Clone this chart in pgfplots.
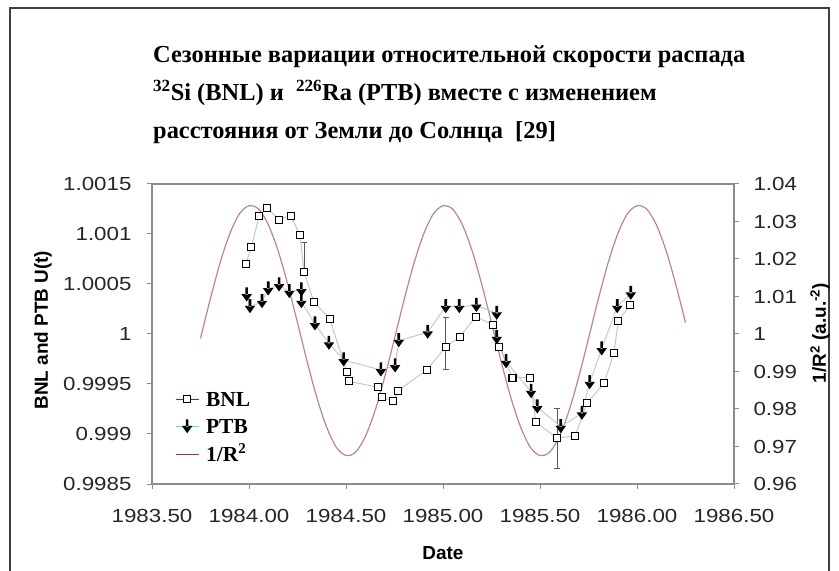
\documentclass[border=0pt]{standalone}
\usepackage{fontspec}
\setmainfont{Liberation Serif}
\setsansfont{Liberation Sans}
\newfontfamily\tickfont{Liberation Sans}[FakeStretch=1.18]
\usepackage{pgfplots}
\pgfplotsset{compat=1.18}

\definecolor{axgray}{RGB}{140,140,140}
\definecolor{curvecol}{RGB}{185,135,135}
\definecolor{legred}{RGB}{170,50,50}
\definecolor{bnlline}{RGB}{200,195,215}
\definecolor{ptbline}{RGB}{190,205,205}
\definecolor{bnlleg}{RGB}{150,0,220}
\definecolor{ptbleg}{RGB}{90,215,230}
\definecolor{errcol}{RGB}{90,90,90}

\pgfdeclareplotmark{darrow}{%
  \pgfpathrectangle{\pgfqpoint{-1.3bp}{0bp}}{\pgfqpoint{2.6bp}{7.5bp}}%
  \pgfpathmoveto{\pgfqpoint{-5.2bp}{0.8bp}}%
  \pgfpathlineto{\pgfqpoint{5.2bp}{0.8bp}}%
  \pgfpathlineto{\pgfqpoint{0bp}{-6.5bp}}%
  \pgfpathclose
  \pgfusepathqfill
}

\newcommand\tickfs{\tickfont\fontsize{19}{22}\selectfont}
\newcommand\labfs{\sffamily\bfseries\fontsize{19}{22}\selectfont}
\newcommand\titlefs{\rmfamily\bfseries\fontsize{24.5}{28}\selectfont}

\begin{document}
\begin{tikzpicture}
\useasboundingbox (0bp,0bp) rectangle (839bp,571bp);
\draw[line width=1.5bp, black!75] (10bp,0bp) -- (10bp,563bp) -- (829bp,563bp) -- (829bp,0bp);

% right axis: 1/R^2
\begin{axis}[
  at={(152bp,87bp)}, anchor=south west,
  scale only axis, width=582bp, height=300bp,
  xmin=1983.5, xmax=1986.5, ymin=0.96, ymax=1.04,
  axis x line=none, axis y line*=right,
  axis line style={axgray, line width=1.2bp},
  ytick={0.96,0.97,0.98,0.99,1,1.01,1.02,1.03,1.04},
  yticklabels={0.96,0.97,0.98,0.99,1,1.01,1.02,1.03,1.04},
  tick align=outside, major tick length=5bp,
  tick style={axgray, line width=1bp},
  yticklabel style={font=\tickfs, text=black!85, xshift=11bp},
  every axis y label/.style={at={(axis description cs:1.1478,0.503)}, anchor=center, rotate=90, font=\labfs},
  ylabel={1/R\textsuperscript{2} (a.u.\textsuperscript{-2})},
]
\addplot[curvecol, line width=1.2bp, smooth] coordinates {
(1983.75,0.9988) (1983.80,1.0092) (1983.85,1.0188) (1983.90,1.0266) (1983.95,1.0320)
(1984.00,1.0342) (1984.05,1.0333) (1984.10,1.0291) (1984.15,1.0222) (1984.20,1.0132)
(1984.25,1.0030) (1984.30,0.9926) (1984.35,0.9830) (1984.40,0.9752) (1984.45,0.9698)
(1984.50,0.9676) (1984.55,0.9685) (1984.60,0.9727) (1984.65,0.9796) (1984.70,0.9886)
(1984.75,0.9988) (1984.80,1.0092) (1984.85,1.0188) (1984.90,1.0266) (1984.95,1.0320)
(1985.00,1.0342) (1985.05,1.0333) (1985.10,1.0291) (1985.15,1.0222) (1985.20,1.0132)
(1985.25,1.0030) (1985.30,0.9926) (1985.35,0.9830) (1985.40,0.9752) (1985.45,0.9698)
(1985.50,0.9676) (1985.55,0.9685) (1985.60,0.9727) (1985.65,0.9796) (1985.70,0.9886)
(1985.75,0.9988) (1985.80,1.0092) (1985.85,1.0188) (1985.90,1.0266) (1985.95,1.0320)
(1986.00,1.0342) (1986.05,1.0333) (1986.10,1.0291) (1986.15,1.0222) (1986.20,1.0132)
(1986.25,1.0030)
};
\end{axis}

% left axis: BNL and PTB
\begin{axis}[
  at={(152bp,87bp)}, anchor=south west,
  scale only axis, width=582bp, height=300bp,
  xmin=1983.5, xmax=1986.5, ymin=0.9985, ymax=1.0015,
  axis line style={axgray, line width=1.2bp},
  xtick={1983.5,1984,1984.5,1985,1985.5,1986,1986.5},
  xticklabels={1983.50,1984.00,1984.50,1985.00,1985.50,1986.00,1986.50},
  ytick={0.9985,0.999,0.9995,1,1.0005,1.001,1.0015},
  yticklabels={0.9985,0.999,0.9995,1,1.0005,1.001,1.0015},
  xtick pos=lower, ytick pos=left,
  tick align=outside, major tick length=5bp,
  tick style={axgray, line width=1bp},
  ticklabel style={font=\tickfs, text=black!85},
  xticklabel style={yshift=-17bp},
  yticklabel style={xshift=-12bp},
  every axis x label/.style={at={(axis description cs:0.5,-0.2300)}, anchor=center, font=\labfs},
  every axis y label/.style={at={(axis description cs:-0.1873,0.513)}, anchor=center, rotate=90, font=\labfs},
  xlabel={Date},
  ylabel={BNL and PTB U(t)},
  legend style={draw=none, fill=none, inner sep=0pt, at={(axis description cs:0.039,0.329)}, anchor=north west,
    font=\rmfamily\bfseries\fontsize{21.5}{24}\selectfont,
    nodes={inner sep=6.75bp, text height=14bp, text depth=0bp}, row sep=0pt,
    /tikz/every even column/.append style={column sep=5bp}},
  legend cell align=left,
  legend image code/.code={\draw[mark repeat=2,mark phase=2,#1] plot coordinates {(0bp,0bp) (11.5bp,0bp) (23bp,0bp)};},
]
\addlegendimage{bnlleg, line width=1bp, mark=square*, mark size=3.5bp, mark options={draw=black, fill=white, line width=1.1bp}}
\addlegendentry{BNL}
\addlegendimage{ptbleg, line width=1bp, mark=darrow, mark options={black}}
\addlegendentry{PTB}
\addlegendimage{legred, line width=1.5bp}
\addlegendentry{1/R\textsuperscript{2}}

% error bars
\addplot[forget plot, only marks, mark=none,
  error bars/.cd, y dir=both, y explicit,
  error bar style={errcol, line width=1bp},
  error mark options={errcol, rotate=90, mark size=3bp, line width=1bp}]
  table[x=x, y=y, y error plus=ep, y error minus=em] {
x y ep em
1984.284 1.000617 0.0003 0
1985.015 0.999873 0.00029 0.00023
1985.589 0.998957 0.0003 0.0003
};

% BNL
\addplot[forget plot, bnlline, line width=1bp, mark=square*, mark size=3.5bp,
  mark options={draw=black, fill=white, line width=1.1bp}] coordinates {
(1983.983,1.000697) (1984.012,1.000870) (1984.053,1.001183) (1984.094,1.001260)
(1984.153,1.001143) (1984.215,1.001183) (1984.263,1.000990) (1984.284,1.000617)
(1984.334,1.000323) (1984.416,1.000150) (1984.504,0.999623) (1984.515,0.999527)
(1984.665,0.999467) (1984.686,0.999367) (1984.744,0.999330) (1984.767,0.999430)
(1984.916,0.999640) (1985.015,0.999873) (1985.088,0.999973) (1985.168,1.000173)
(1985.259,1.000090) (1985.290,0.999873) (1985.358,0.999563) (1985.448,0.999563)
(1985.479,0.999117) (1985.589,0.998957) (1985.682,0.998983) (1985.741,0.999307)
(1985.831,0.999507) (1985.881,0.999813) (1985.904,1.000130) (1985.964,1.000290)
};

% PTB
\addplot[forget plot, ptbline, line width=1bp, mark=darrow, mark options={black}] coordinates {
(1983.988,1.000390) (1984.005,1.000273) (1984.067,1.000323) (1984.099,1.000450)
(1984.155,1.000490) (1984.208,1.000423) (1984.270,1.000440) (1984.270,1.000323)
(1984.340,1.000100) (1984.412,0.999907) (1984.488,0.999740) (1984.680,0.999640)
(1984.753,0.999680) (1984.772,0.999933) (1984.921,1.000017) (1985.014,1.000273)
(1985.084,1.000273) (1985.172,1.000285) (1985.277,1.000207) (1985.277,0.999963)
(1985.325,0.999723) (1985.454,0.999423) (1985.486,0.999270) (1985.607,0.999073)
(1985.716,0.999207) (1985.756,0.999513) (1985.818,0.999850) (1985.898,1.000273)
(1985.968,1.000407)
};
\end{axis}

\node[anchor=base west, inner sep=0pt, font=\titlefs] at (153bp,508bp) {Сезонные вариации относительной скорости распада};
\node[anchor=base west, inner sep=0pt, font=\titlefs] at (153bp,470bp) {\textsuperscript{32}Si (BNL) и \ \textsuperscript{226}Ra (PTB) вместе с изменением};
\node[anchor=base west, inner sep=0pt, font=\titlefs] at (153bp,432bp) {расстояния от Земли до Солнца \ [29]};
\end{tikzpicture}
\end{document}
